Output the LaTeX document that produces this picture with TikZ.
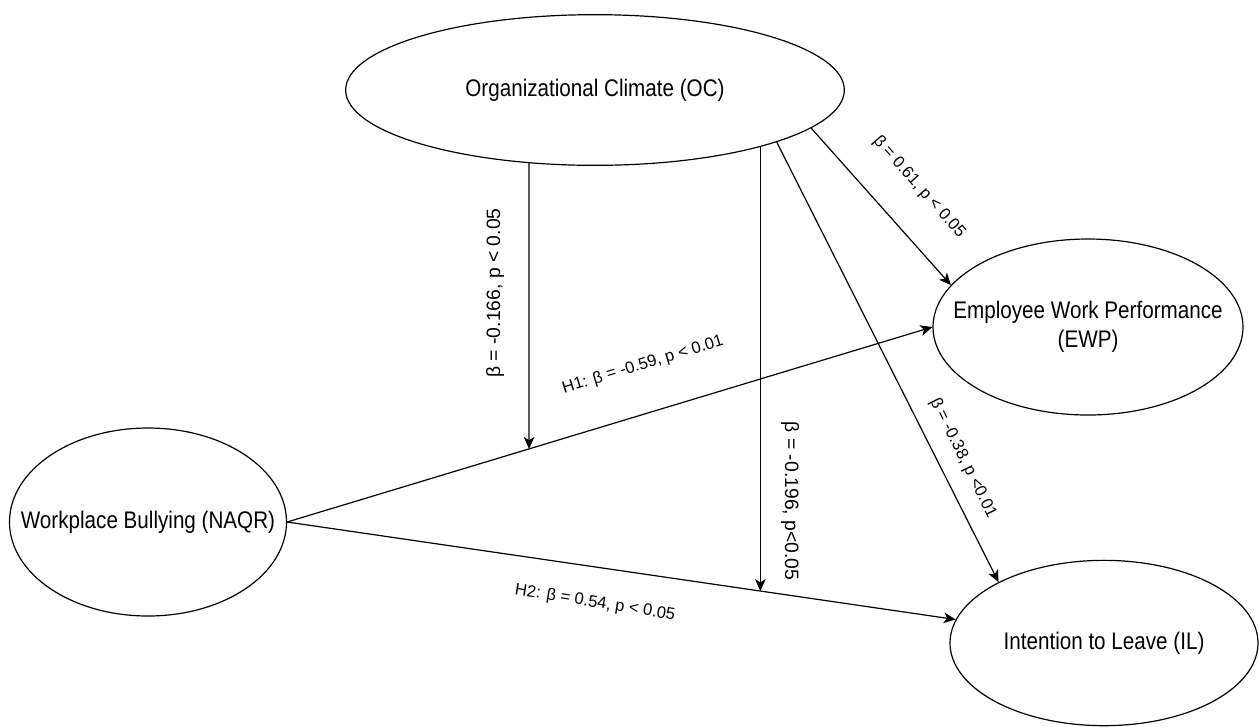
\documentclass[tikz,border=0pt]{standalone}
\usepackage{fontspec}
\setmainfont{Liberation Sans}
\newfontfamily\condfont{Liberation Sans}[FakeStretch=0.86]
\usetikzlibrary{shapes.geometric,arrows.meta}
\begin{document}
\begin{tikzpicture}[x=0.75pt,y=-0.75pt,
  latent/.style={ellipse,draw,line width=0.9pt,inner sep=0pt},
  ntext/.style={inner sep=0pt,align=center,font=\condfont\fontsize{18}{21.75}\selectfont},
  conn/.style={draw,line width=0.9pt,-{Stealth[length=9pt,width=8pt,inset=2.5pt]}},
  slab/.style={font=\fontsize{12.4}{14}\selectfont,inner sep=0pt},
  vlab/.style={font=\fontsize{14.5}{16}\selectfont,inner sep=0pt}
]
\useasboundingbox (0,0) rectangle (1259,726);

% constructs
\node[latent,minimum width=374pt,minimum height=113pt] (OC) at (595,90) {};
\node[latent,minimum width=232.5pt,minimum height=132pt] (EWP) at (1088,327) {};
\node[latent,minimum width=207.75pt,minimum height=141pt] (NAQR) at (148,522) {};
\node[latent,minimum width=231pt,minimum height=124pt] (IL) at (1104,643) {};
\node[ntext] (OCt) at (OC.center) {Organizational Climate (OC)};
\node[ntext] (EWPt) at (EWP.center) {Employee Work Performance\\(EWP)};
\node[ntext] (NAQRt) at (NAQR.center) {Workplace Bullying (NAQR)};
\node[ntext] (ILt) at (IL.center) {Intention to Leave (IL)};

% main paths
\draw[conn] (NAQR.east) -- (EWP.west);
\draw[conn] (NAQR.east) -- (IL.171.7);
\draw[conn] (OC.-10.8) -- (EWP.163.4);
\draw[conn] (OC.-16) -- (IL.150.8);

% moderation arrows
\coordinate (m1s) at (OC.-132.2);
\coordinate (m1d) at ([yshift=-100pt]m1s);
\coordinate (n1) at (NAQR.east);
\coordinate (e1) at (EWP.west);
\draw[conn] (m1s) -- (intersection of n1--e1 and m1s--m1d);
\coordinate (m2s) at (OC.-19.86);
\coordinate (m2d) at ([yshift=-100pt]m2s);
\coordinate (i1) at (IL.171.7);
\draw[conn] (m2s) -- (intersection of n1--i1 and m2s--m2d);

% labels
\node[vlab,rotate=90] (L1) at (495,293) {β = -0.166, p < 0.05};
\node[slab,rotate=16.8] (L2) at (643,365) {H1: β = -0.59, p < 0.01};
\node[vlab,rotate=-90] (L3) at (790,501) {β = -0.196, p<0.05};
\node[slab,rotate=-63.6] (L4) at (963,458) {β = -0.38, p <0.01};
\node[slab,rotate=-48.5] (L5) at (919,187) {β = 0.61, p < 0.05};
\node[slab,rotate=-9] (L6) at (595,603) {H2: β = 0.54, p < 0.05};
\end{tikzpicture}
\end{document}
